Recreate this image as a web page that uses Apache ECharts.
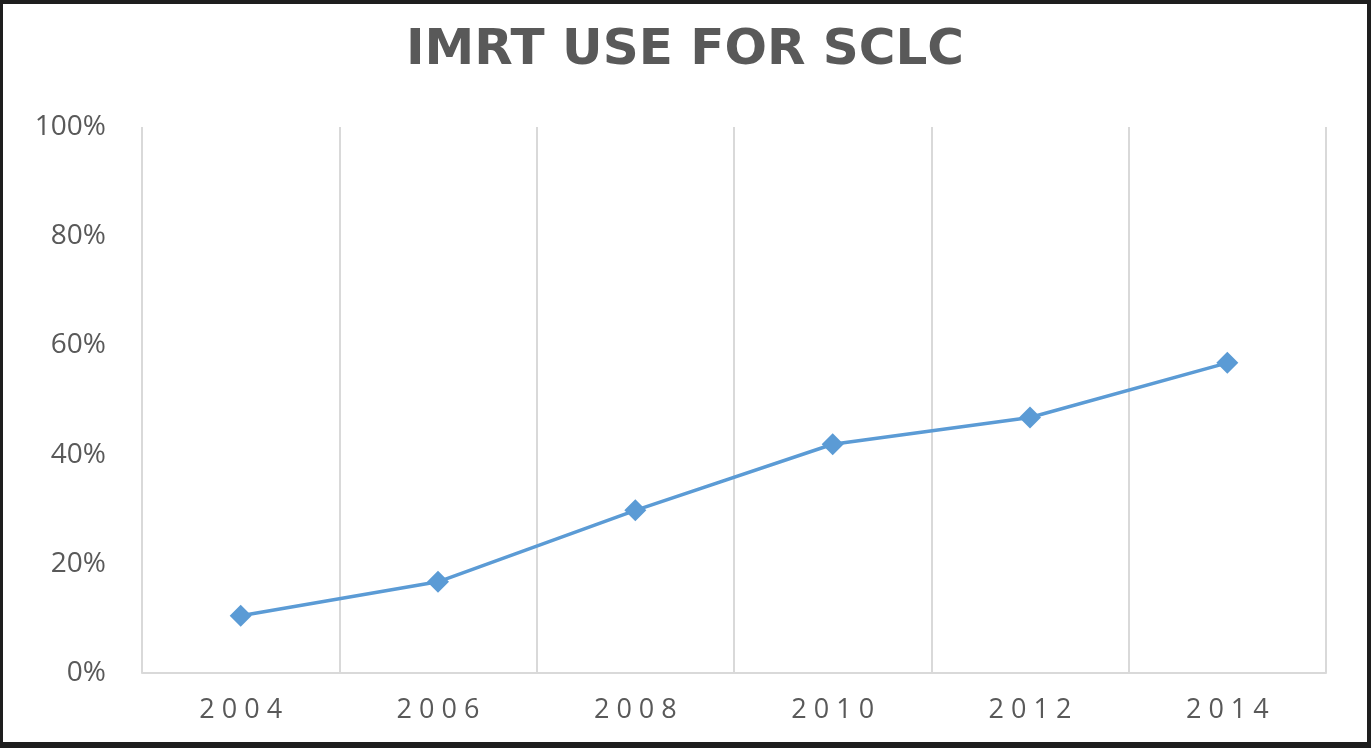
<!DOCTYPE html>
<html>
<head>
<meta charset="utf-8">
<script src="https://cdn.jsdelivr.net/npm/echarts@6/dist/echarts.min.js"></script>
<style>
html,body{margin:0;padding:0;background:#1e1e1e;width:1371px;height:748px;overflow:hidden;}
#c{position:absolute;left:3px;top:4px;width:1364px;height:738px;background:#fff;}
</style>
</head>
<body>
<div id="c"></div>
<script>
const titleText = 'IMRT USE FOR SCLC';
const years = ['2004','2006','2008','2010','2012','2014'];
const imrtUse = [10.5, 16.7, 29.8, 41.9, 46.8, 56.8];
const yTicks = [0, 20, 40, 60, 80, 100];

const chart = echarts.init(document.getElementById('c'));
chart.setOption({
  animation: false,
  backgroundColor: '#fff',
  title: {
    text: titleText,
    left: 'center',
    top: 17,
    textStyle: {fontFamily: 'DejaVu Sans', fontWeight: 'bold', fontSize: 50, color: '#595959'}
  },
  grid: {left: 139, right: 41, top: 123, bottom: 69},
  xAxis: {
    type: 'category',
    data: years,
    boundaryGap: true,
    axisLine: {show: true, lineStyle: {color: '#d9d9d9', width: 2}},
    axisTick: {show: false},
    splitLine: {show: true, lineStyle: {color: '#d9d9d9', width: 2}},
    axisLabel: {
      margin: 24,
      fontFamily: 'Open Sans', fontSize: 27, color: '#595959',
      formatter: v => v.split('').join(' ')
    }
  },
  yAxis: {
    type: 'value',
    min: yTicks[0], max: yTicks[yTicks.length - 1], interval: 20,
    axisLine: {show: false},
    axisTick: {show: false},
    splitLine: {show: false},
    axisLabel: {margin: 36, fontFamily: 'Open Sans', fontSize: 28, color: '#595959', formatter: '{value}%'}
  },
  series: [{
    type: 'line',
    data: imrtUse,
    symbol: 'diamond',
    symbolSize: 22,
    lineStyle: {color: '#5b9bd5', width: 3.5},
    itemStyle: {color: '#5b9bd5'}
  }]
});
</script>
</body>
</html>
